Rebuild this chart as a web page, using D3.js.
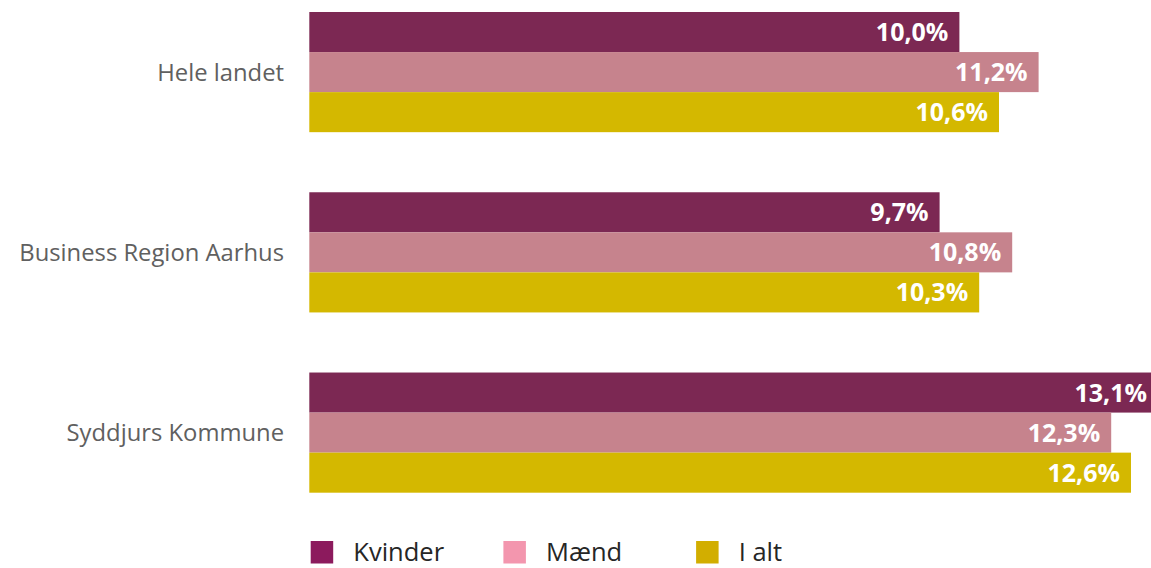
<!DOCTYPE html>
<html><head><meta charset="utf-8">
<script src="https://cdn.jsdelivr.net/npm/d3@7"></script>
<style>
html,body{margin:0;padding:0;background:#fff;}
svg{display:block;}
</style></head>
<body>
<svg id="chart" width="1151" height="568"></svg>
<script>
const categories = ["Hele landet", "Business Region Aarhus", "Syddjurs Kommune"];
const seriesNames = ["Kvinder", "Mænd", "I alt"];
const kvinder = [10.0, 9.7, 13.1];
const maend = [11.2, 10.8, 12.3];
const ialt = [10.6, 10.3, 12.6];
const barColors = ["#7c2853", "#c6838d", "#d4b800"];
const legendColors = ["#8c1a5d", "#f396ae", "#d2ae00"];

const seriesValues = [kvinder, maend, ialt];
const W = 1151, H = 568;
const svg = d3.select("#chart");

const plotLeft = 309.3;
const x = d3.scaleLinear().domain([0.15, 13.1]).range([plotLeft, 1164]);
const y0 = d3.scaleBand().domain(categories).range([12, 492.7]).paddingInner(1/3).paddingOuter(0);
const y1 = d3.scaleBand().domain(seriesNames).range([0, y0.bandwidth()]).padding(0);

const fmt = v => v.toFixed(1).replace(".", ",") + "%";

const g = svg.append("g");
categories.forEach((c, ci) => {
  const gg = g.append("g").attr("transform", `translate(0,${y0(c)})`);
  seriesNames.forEach((s, si) => {
    const v = seriesValues[si][ci];
    gg.append("rect")
      .attr("x", plotLeft)
      .attr("y", y1(s))
      .attr("width", x(v) - plotLeft)
      .attr("height", y1.bandwidth())
      .attr("fill", barColors[si]);
    const xe = Math.min(x(v) - 11, W - 4);
    gg.append("text")
      .attr("x", xe)
      .attr("y", y1(s) + y1.bandwidth() / 2)
      .attr("dy", "0.36em")
      .attr("text-anchor", "end")
      .attr("fill", "#fff")
      .style("font-family", "'Open Sans', sans-serif")
      .style("font-weight", 700)
      .style("font-size", "25px")
      .text(fmt(v));
  });
  svg.append("text")
    .attr("x", 284)
    .attr("y", y0(c) + y0.bandwidth() / 2)
    .attr("dy", "0.36em")
    .attr("text-anchor", "end")
    .attr("fill", "#606060")
    .style("font-family", "'Open Sans', sans-serif")
    .style("font-size", "23.8px")
    .text(c);
});

const legend = svg.append("g");
seriesNames.forEach((s, i) => {
  const lx = 310.7 + i * 192.7;
  legend.append("rect")
    .attr("x", lx).attr("y", 541)
    .attr("width", 22.5).attr("height", 22.5)
    .attr("fill", legendColors[i]);
  legend.append("text")
    .attr("x", lx + 42.6).attr("y", 561)
    .attr("fill", "#262626")
    .style("font-family", "'Open Sans', sans-serif")
    .style("font-size", "25.5px")
    .text(s);
});
</script>
</body></html>
